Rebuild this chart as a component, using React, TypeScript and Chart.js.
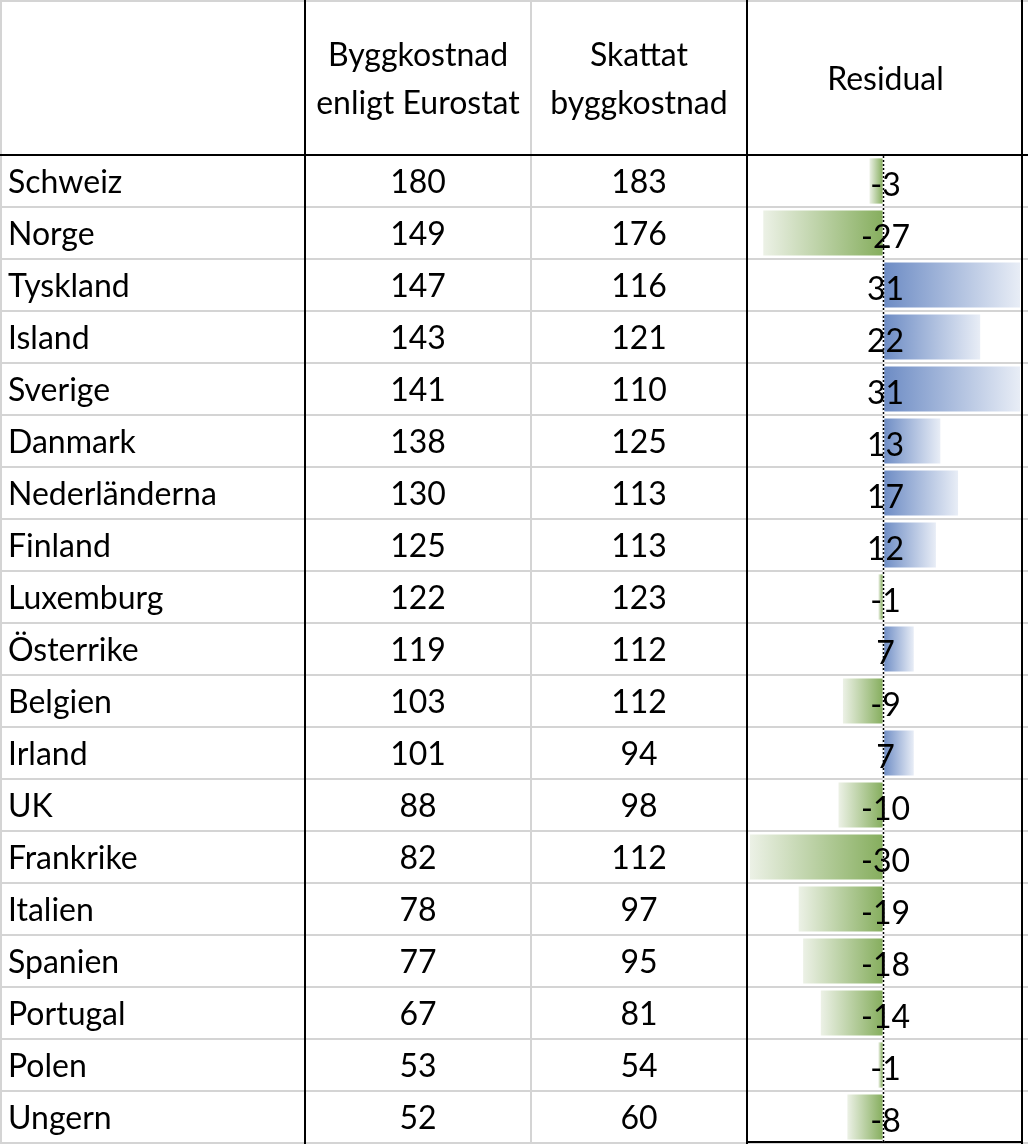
import { useEffect, useRef } from "react";
import Chart from "chart.js/auto";
import type { ChartConfiguration, Plugin } from "chart.js";

const countries = [
  "Schweiz", "Norge", "Tyskland", "Island", "Sverige", "Danmark", "Nederländerna",
  "Finland", "Luxemburg", "Österrike", "Belgien", "Irland", "UK", "Frankrike",
  "Italien", "Spanien", "Portugal", "Polen", "Ungern",
];
const eurostat = [180, 149, 147, 143, 141, 138, 130, 125, 122, 119, 103, 101, 88, 82, 78, 77, 67, 53, 52];
const estimated = [183, 176, 116, 121, 110, 125, 113, 113, 123, 112, 112, 94, 98, 112, 97, 95, 81, 54, 60];
const residual = [-3, -27, 31, 22, 31, 13, 17, 12, -1, 7, -9, 7, -10, -30, -19, -18, -14, -1, -8];
const headers = [[], ["Byggkostnad", "enligt Eurostat"], ["Skattat", "byggkostnad"], ["Residual"]];

const W = 1028;
const H = 1144;
const FONT = "32px Lato";
const GRID = "#d4d4d4";

// kolumngränser (x)
const COL_SPLIT_1 = 305;
const COL_SPLIT_2 = 531;
const COL_SPLIT_3 = 747;
const COL_RIGHT = 1022;
const HEADER_BOTTOM = 155;

const NEG = { dark: "rgb(134,174,94)", light: "rgb(236,241,230)" };
const POS = { dark: "rgb(108,139,196)", light: "rgb(232,237,246)" };

const tablePlugin: Plugin<"bar"> = {
  id: "excelTable",
  beforeDatasetsDraw(chart) {
    const { ctx } = chart;
    const y = chart.scales.y;
    const n = countries.length;
    ctx.save();
    ctx.lineWidth = 2;
    // grå rutnät
    ctx.strokeStyle = GRID;
    const hline = (yy: number, x0 = 0, x1 = W) => {
      ctx.beginPath();
      ctx.moveTo(x0, yy);
      ctx.lineTo(x1, yy);
      ctx.stroke();
    };
    const vline = (xx: number, y0 = 0, y1 = H) => {
      ctx.beginPath();
      ctx.moveTo(xx, y0);
      ctx.lineTo(xx, y1);
      ctx.stroke();
    };
    hline(1);
    vline(1);
    vline(COL_SPLIT_2);
    for (let i = 1; i < n; i++) {
      const b = (y.getPixelForValue(i - 1) + y.getPixelForValue(i)) / 2;
      hline(Math.round(b));
    }
    hline(H - 1);
    // svarta ramar
    ctx.strokeStyle = "#000";
    hline(HEADER_BOTTOM);
    vline(COL_SPLIT_1);
    vline(COL_SPLIT_3);
    vline(COL_RIGHT);
    hline(H - 2, COL_SPLIT_3, COL_RIGHT + 1);
    ctx.restore();
  },
  afterDatasetsDraw(chart) {
    const { ctx } = chart;
    const x = chart.scales.x;
    const y = chart.scales.y;
    const zero = Math.round(x.getPixelForValue(0)) + 0.5;

    ctx.save();
    // nollinje, prickad
    ctx.lineWidth = 1.5;
    ctx.strokeStyle = "#fff";
    ctx.beginPath();
    ctx.moveTo(zero, HEADER_BOTTOM + 1);
    ctx.lineTo(zero, H - 2);
    ctx.stroke();
    ctx.strokeStyle = "#000";
    ctx.setLineDash([2, 2]);
    ctx.beginPath();
    ctx.moveTo(zero, HEADER_BOTTOM + 1);
    ctx.lineTo(zero, H - 2);
    ctx.stroke();
    ctx.setLineDash([]);

    ctx.fillStyle = "#000";
    ctx.font = FONT;
    ctx.textBaseline = "middle";

    // rubriker
    const centers = [0, (COL_SPLIT_1 + COL_SPLIT_2) / 2, (COL_SPLIT_2 + COL_SPLIT_3) / 2, (COL_SPLIT_3 + COL_RIGHT) / 2 + 1];
    ctx.textAlign = "center";
    headers.forEach((lines, c) => {
      if (!lines.length) return;
      const lh = 48;
      const mid = HEADER_BOTTOM / 2 + 2;
      lines.forEach((t, k) => {
        ctx.fillText(t, centers[c], mid + (k - (lines.length - 1) / 2) * lh);
      });
    });

    countries.forEach((name, i) => {
      const cy = y.getPixelForValue(i) + 2;
      ctx.textAlign = "left";
      ctx.fillText(name, 8, cy);
      ctx.textAlign = "center";
      ctx.fillText(String(eurostat[i]), centers[1], cy);
      ctx.fillText(String(estimated[i]), centers[2], cy);
      ctx.fillText(String(residual[i]), centers[3], cy + 3);
    });
    ctx.restore();
  },
};

export default function App() {
  const canvasRef = useRef<HTMLCanvasElement | null>(null);

  useEffect(() => {
    document.body.style.margin = "0";
    if (!canvasRef.current) return;

    const barColor = (c: any) => {
      const v = c.raw as number | undefined;
      const pal = (v ?? 0) < 0 ? NEG : POS;
      const chart = c.chart as Chart;
      if (v === undefined || !chart.chartArea || !chart.scales.x) return pal.dark;
      const x = chart.scales.x;
      const x0 = x.getPixelForValue(0);
      const x1 = x.getPixelForValue(v);
      if (Math.abs(x1 - x0) < 1) return pal.dark;
      const g = chart.ctx.createLinearGradient(x0, 0, x1, 0);
      g.addColorStop(0, pal.dark);
      g.addColorStop(1, pal.light);
      return g;
    };

    const config: ChartConfiguration<"bar"> = {
      type: "bar",
      data: {
        labels: countries,
        datasets: [
          {
            label: "Residual",
            data: residual,
            backgroundColor: barColor,
            borderWidth: 0,
            barPercentage: 0.87,
            categoryPercentage: 1,
          },
        ],
      },
      options: {
        indexAxis: "y",
        responsive: false,
        animation: false,
        devicePixelRatio: 1,
        layout: { padding: { left: 750, right: W - 1020, top: HEADER_BOTTOM, bottom: 1 } },
        plugins: {
          legend: { display: false },
          tooltip: { enabled: false },
        },
        scales: {
          x: { display: false, min: -30, max: 31 },
          y: { display: false, offset: true },
        },
      },
      plugins: [tablePlugin],
    };

    const chart = new Chart(canvasRef.current, config);
    return () => {
      chart.destroy();
    };
  }, []);

  return (
    <div style={{ position: "absolute", left: 0, top: 0, width: W, height: H, background: "#fff" }}>
      <canvas ref={canvasRef} width={W} height={H} />
    </div>
  );
}
